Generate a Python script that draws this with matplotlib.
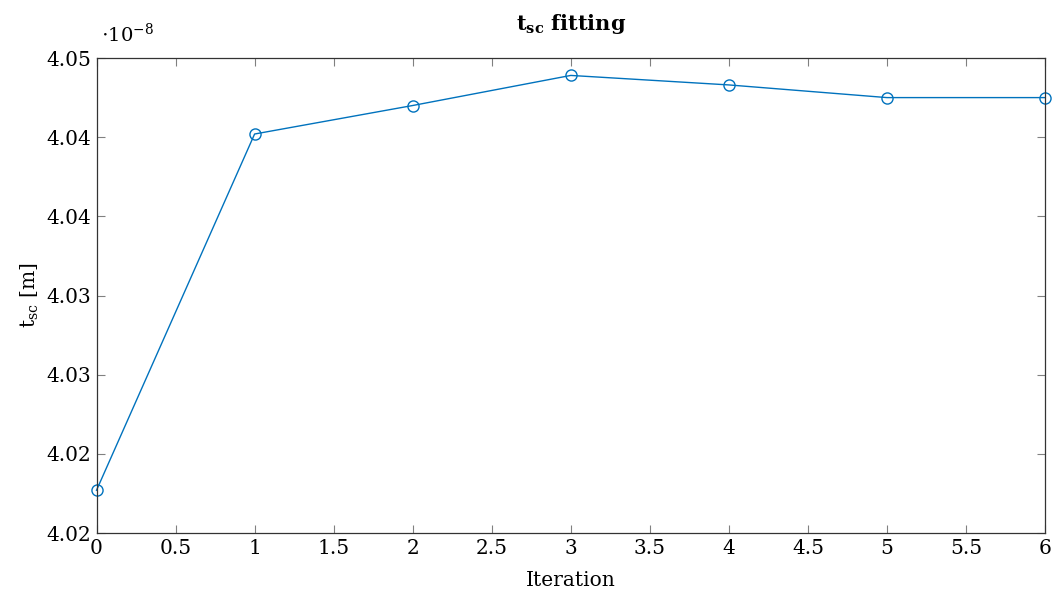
import matplotlib
matplotlib.use("Agg")
import matplotlib.pyplot as plt

# data (in units of 1e-8 m)
iterations = [0, 1, 2, 3, 4, 5, 6]
tsc = [4.0227, 4.0452, 4.0470, 4.0489, 4.0483, 4.0475, 4.0475]

xticks = [0, 0.5, 1, 1.5, 2, 2.5, 3, 3.5, 4, 4.5, 5, 5.5, 6]
xticklabels = ["0", "0.5", "1", "1.5", "2", "2.5", "3", "3.5", "4", "4.5", "5", "5.5", "6"]
yticks = [4.020, 4.025, 4.030, 4.035, 4.040, 4.045, 4.050]
yticklabels = ["4.02", "4.02", "4.03", "4.03", "4.04", "4.04", "4.05"]

plt.rcParams['font.family'] = ['DejaVu Serif']
plt.rcParams['mathtext.fontset'] = 'custom'
plt.rcParams['mathtext.rm'] = 'DejaVu Serif'
plt.rcParams['mathtext.it'] = 'DejaVu Serif:italic'
plt.rcParams['mathtext.bf'] = 'DejaVu Serif:bold'

fig = plt.figure(figsize=(10.56, 5.95), dpi=100)
ax = fig.add_axes([0.0914, 0.1042, 0.8982, 0.7983])

blue = '#0072BD'
ax.plot(iterations, tsc, color=blue, lw=1.0, marker='o', markersize=8,
        markerfacecolor='none', markeredgecolor=blue, markeredgewidth=1.0, clip_on=False)

ax.set_xlim(0, 6)
ax.set_ylim(4.020, 4.050)
ax.set_xticks(xticks)
ax.set_xticklabels(xticklabels)
ax.set_yticks(yticks)
ax.set_yticklabels(yticklabels)
ax.tick_params(direction='in', length=6, width=0.8, color='#808080',
               top=True, right=True, labelsize=14.5, pad=4)
for s in ax.spines.values():
    s.set_linewidth(0.9)
    s.set_color('#333333')

ax.set_xlabel('Iteration', fontsize=14.5, labelpad=10)
ax.set_ylabel(r'$\mathrm{t_{sc}}$ [m]', fontsize=14.5, labelpad=4)
ax.set_title(r'$\mathbf{t_{sc}}$ fitting', fontsize=15, fontweight='bold', pad=20)
ax.text(0.005, 1.025, r'$\cdot10^{-8}$', transform=ax.transAxes, fontsize=14,
        ha='left', va='bottom')

fig.savefig('out.png', dpi=100)
